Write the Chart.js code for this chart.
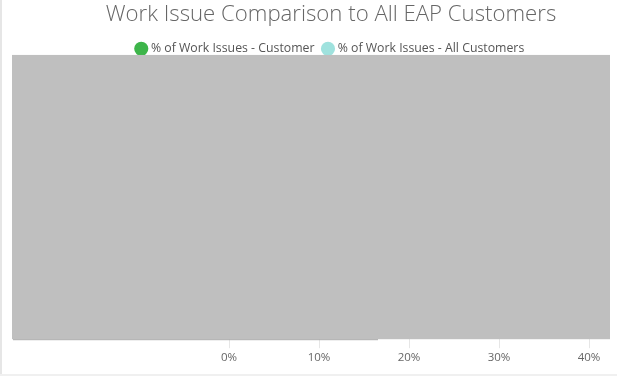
<!DOCTYPE html>
<html>
<head>
<meta charset="utf-8">
<script src="https://cdn.jsdelivr.net/npm/chart.js@4/dist/chart.umd.min.js"></script>
<style>
  html, body { margin: 0; padding: 0; background: #fff; }
  #wrap { width: 617px; height: 376px; position: relative; }
</style>
</head>
<body>
<div id="wrap"><canvas id="workChart" width="617" height="376"></canvas></div>
<script>
// Data (bars sit under the grey mask in the reference, values are estimates)
const categories = ['Job Stress', 'Coworker Conflict', 'Supervisor Conflict', 'Workload', 'Job Security', 'Performance', 'Other'];
const customerPct = [12, 8, 6, 10, 4, 3, 5];
const allCustomerPct = [15, 9, 7, 11, 5, 4, 6];
const xTicks = [0, 10, 20, 30, 40];

// Frame strips and the grey mask seen over the plot
const maskPlugin = {
    id: 'mask',
    beforeInit(chart) {
        // pull the plot up closer to the legend
        const fit = chart.legend.fit;
        chart.legend.fit = function() {
            fit.call(this);
            this.height -= 10;
        };
    },
    beforeDraw(chart) {
        const c = chart.ctx;
        c.save();
        c.fillStyle = '#e6e6e6';
        c.fillRect(0, 0, 2, chart.height);
        c.fillStyle = '#f0f0f0';
        c.fillRect(0, chart.height - 2, chart.width, 2);
        c.restore();
    },
    afterDraw(chart) {
        const c = chart.ctx;
        const a = chart.chartArea;
        c.save();
        c.fillStyle = '#bfbfbf';
        c.fillRect(12, a.top, 598, a.bottom - a.top);
        c.fillStyle = '#a8a8a8';
        c.fillRect(13, a.bottom, 365, 1);
        c.restore();
    }
};

const ctx = document.getElementById('workChart').getContext('2d');
new Chart(ctx, {
    type: 'bar',
    data: {
        labels: categories,
        datasets: [{
            label: '% of Work Issues - Customer',
            data: customerPct,
            backgroundColor: '#3db54a'
        }, {
            label: '% of Work Issues - All Customers',
            data: allCustomerPct,
            backgroundColor: '#9fe2de'
        }]
    },
    options: {
        indexAxis: 'y',
        responsive: false,
        animation: false,
        layout: { padding: { left: 55, right: 10, top: 0, bottom: 8 } },
        scales: {
            x: {
                min: 0,
                max: 42,
                afterBuildTicks: function(axis) {
                    axis.ticks = xTicks.map(v => ({ value: v }));
                },
                ticks: {
                    color: '#666',
                    font: { family: 'Open Sans', size: 11.5 },
                    padding: 3,
                    callback: function(value) { return value + '%'; }
                },
                grid: { color: '#e6e6e6', tickLength: 9 },
                border: { display: false }
            },
            y: {
                afterFit: function(axis) { axis.width = 174; },
                ticks: { display: false },
                grid: { display: false },
                border: { display: false }
            }
        },
        plugins: {
            title: {
                display: true,
                text: 'Work Issue Comparison to All EAP Customers',
                color: '#666',
                font: { family: 'Open Sans', size: 22.2, weight: 300 },
                padding: { top: 1, bottom: 5 }
            },
            legend: {
                labels: {
                    usePointStyle: true,
                    pointStyle: 'circle',
                    boxWidth: 7,
                    boxHeight: 10,
                    padding: 10,
                    color: '#555',
                    font: { family: 'Open Sans', size: 12.3 }
                }
            },
            tooltip: { enabled: false }
        }
    },
    plugins: [maskPlugin]
});
</script>
</body>
</html>
